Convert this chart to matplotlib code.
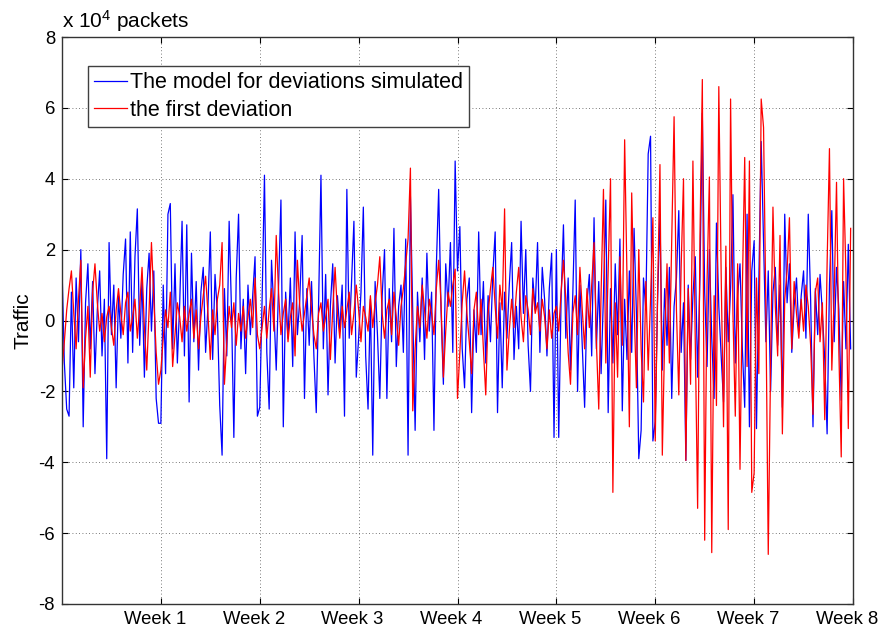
import numpy as np
import matplotlib
matplotlib.use('Agg')
import matplotlib.pyplot as plt
import matplotlib.transforms as mtransforms

plt.rcParams['font.family'] = ['Liberation Sans', 'DejaVu Sans']
plt.rcParams['mathtext.default'] = 'regular'
plt.rcParams['axes.unicode_minus'] = False

# Desviaciones de trafico (x 10^4 paquetes), 42 muestras por semana (cada 4 horas)
blue_weeks = [
    [1.5, -1.2, -2.5, -2.7, 0.8, -1.9, 1.2, -0.6, 2.0, -3.0, 0.5, 1.6, -0.8, 1.1, -1.5, 0.3, 1.4, -1.0, 0.6, -3.9, 2.2,
     -0.4, 1.0, -1.9, 0.7, -0.5, 1.3, 2.3, -1.2, 2.5, -0.9, 1.8, 3.15, -0.7, 1.2, -1.6, 0.9, 1.9, -0.3, 1.4, -2.2, -2.9],
    [-2.9, 1.0, -1.5, 3.0, 3.3, -0.8, 1.6, -1.2, 0.5, 2.8, -1.0, 2.7, -2.3, 1.9, -0.6, 1.1, -1.4, 0.8, 1.5, -0.9, 0.4,
     2.5, -1.1, 1.3, 0.2, -2.4, -3.8, 0.9, -1.0, 2.8, 0.3, -3.3, 1.2, 3.0, -0.8, 0.6, -1.5, 1.0, -0.4, 0.7, 1.8, -2.7],
    [-2.45, 0.6, 4.1, -0.9, -2.5, 1.7, 0.3, -1.4, 1.0, 3.4, -3.0, 0.8, -0.5, 1.2, -1.3, 2.5, -0.4, 0.6, 2.4, -2.2, 0.9,
     -0.7, 1.1, -1.0, -2.6, 0.5, 4.1, -0.8, 1.3, -2.1, 0.4, 1.6, -1.2, 0.7, -0.3, 1.0, -2.7, 3.7, -0.5, 1.1, 2.8, -1.6],
    [-0.5, 0.8, 3.2, -1.0, -2.5, 0.6, -3.8, 1.1, -0.4, -2.2, 0.7, 2.0, -2.2, 0.9, -0.6, 2.6, -1.3, 0.4, 1.0, -0.9, 2.3,
     -3.8, 3.5, 0.2, -3.1, 0.8, -0.6, 1.2, -1.1, 1.9, -0.3, 0.8, -3.1, 1.5, 3.7, 0.3, -1.8, 1.6, 0.4, 2.2, -0.9, 4.5],
    [1.4, 2.65, -0.8, -1.9, 0.6, 1.2, -2.6, 0.3, -0.9, 2.5, -0.4, 1.1, -1.2, 0.7, -0.6, 1.3, 2.5, -2.6, 0.5, -1.9, 0.8,
     -0.5, 1.0, 2.2, -1.1, 0.4, -0.8, 2.8, 0.2, 2.0, -0.7, -2.0, 1.2, 0.3, 2.2, -0.9, 1.5, 0.6, -1.0, 0.9, 1.9, -3.3],
    [2.0, -3.3, 0.6, 2.7, -0.5, 1.2, -1.4, 0.8, 3.4, -2.0, 1.0, -0.7, -2.45, 0.5, 1.3, -1.0, 2.9, -0.8, 1.1, -1.5, 0.7,
     3.4, -2.6, 0.9, -1.2, 1.6, -0.4, 2.3, -2.55, 0.6, -1.1, 1.4, -0.9, 2.6, 0.2, -3.9, -3.1, 1.2, 0.3, 4.7, 5.2, -3.4],
    [-2.85, 0.6, 3.0, -1.4, 0.9, -0.7, 1.5, -2.2, 0.4, 1.2, 3.1, -0.9, 0.5, -3.95, 1.0, -1.1, 0.7, 1.8, -1.6, 1.25, 5.85,
     0.8, -1.3, 2.0, -0.5, -2.2, 2.75, 0.4, -1.0, -2.3, 1.5, -0.6, 0.9, 3.55, -1.2, 0.7, 1.6, -0.8, -2.45, 3.0, -3.0, 1.4],
    [2.25, -3.05, 1.1, 5.05, 2.2, -0.6, 1.4, -2.0, 0.8, 1.5, -0.7, 1.0, -2.45, 3.0, 0.5, 1.6, -0.9, 0.4, 1.2, -0.3, 0.7,
     1.4, -0.5, 3.0, 0.6, -3.0, 0.9, -0.4, 1.3, 0.2, -1.1, -3.2, 1.0, 3.1, -0.6, 1.5, 0.3, -2.25, 1.1, -0.8, 2.15, -0.8],
]

red_weeks = [
    [-1.4, -0.6, 0.3, 0.9, 1.4, 0.2, -0.8, 0.6, 1.7, -1.9, -0.5, 0.4, -1.6, 0.8, 1.6, 0.5, -0.3, 0.2, -0.6, 0.1, 0.4,
     -0.2, -0.7, 0.3, 0.9, 0.2, -0.4, 0.5, 0.8, -0.3, 0.1, 0.6, -0.5, 0.4, 1.5, -0.2, -1.4, 0.3, 2.2, 0.6, -0.9, -1.8],
    [-1.4, -0.5, 0.3, -0.2, 0.8, -1.3, -0.4, 0.5, 0.1, -0.6, 0.4, -0.3, 0.2, 0.6, -0.5, 0.3, -0.8, 0.1, 0.7, 1.25, 0.2,
     -1.1, 0.3, -0.4, 0.6, 1.0, 2.2, -1.8, -0.6, 0.4, -0.2, 0.5, -0.7, 0.2, -0.3, 0.4, -0.5, 0.1, 0.6, -0.2, 1.2, -0.4],
    [-0.8, -0.2, 0.4, -0.5, 0.3, 0.9, -0.3, 2.4, 0.8, -0.4, 0.2, 0.6, -0.6, 0.1, 0.5, -1.0, 1.7, 0.4, -0.3, 0.2, 0.7,
     1.2, 0.3, -0.4, -0.8, 0.2, 0.5, -0.3, 0.1, 0.6, -1.1, 0.3, 1.5, 0.2, -0.5, 0.4, -0.2, 0.3, 0.8, -0.4, 0.2, 1.0],
    [0.3, -0.6, 0.4, 0.1, -0.3, 0.7, -0.2, 0.5, 1.0, 1.8, 0.2, -0.5, 0.3, 0.6, -0.4, 0.8, 0.1, -0.7, 0.4, 0.9, 1.6,
     2.3, 4.3, -2.55, -0.8, 0.4, -0.2, 1.0, 0.3, -0.5, 0.6, 0.2, -0.4, 0.9, 1.7, 0.5, -1.6, -0.3, 0.8, 0.4, 1.0, 1.45],
    [-2.2, -0.9, 0.5, 1.4, 0.2, -0.6, -1.5, 0.3, 0.8, -0.4, 0.6, -0.8, -2.1, 0.2, 0.9, 1.5, 0.4, -0.5, 1.0, 0.3, 3.15,
     -1.4, -0.3, 0.6, -0.2, 0.8, 1.5, 0.1, -0.6, 0.7, 0.3, -0.4, 0.9, 0.2, 0.5, -0.3, 0.6, 0.1, -0.8, 0.3, -0.5, 0.2],
    [0.4, -0.3, 0.8, 1.7, 0.6, -0.9, -1.8, 0.2, 0.7, -0.4, 1.5, 0.3, -0.8, 0.9, -0.2, 1.0, 2.2, -0.6, -2.5, 0.8, 3.7,
     -1.2, 1.4, 4.0, -4.85, 0.5, -1.6, 1.8, -0.7, 5.1, 1.2, -3.0, 3.6, 0.4, -1.9, 2.0, -0.8, -2.3, 1.1, -1.4, 0.6, 2.9],
    [-3.4, 0.8, 4.4, -3.8, -0.5, 1.6, -1.2, 2.2, 5.75, 0.3, -2.1, 1.5, 4.0, -3.95, 0.9, -1.8, 4.5, -0.6, -5.3, 2.4, 6.8,
     -6.2, 1.1, 4.05, -6.55, 0.7, -2.4, 6.6, 1.3, -3.0, 2.1, -5.9, 6.25, 0.2, -2.7, 1.6, -4.2, 0.9, 4.6, -1.3, 4.5, -4.85],
    [-4.3, 1.2, -1.5, 6.25, 5.45, 0.3, -6.6, -1.2, 3.2, 0.4, -1.0, 2.4, -3.2, 0.6, 1.4, 2.9, -0.8, 1.1, 0.2, -0.5, 0.6,
     -0.3, 1.0, 0.4, -0.7, -2.65, 0.8, 1.2, -0.6, 0.5, -2.8, 1.6, 4.85, -1.4, 0.7, 3.9, -0.9, -3.85, 4.0, 1.3, -3.05, 2.6],
]

week_labels = ['Week 1', 'Week 2', 'Week 3', 'Week 4', 'Week 5', 'Week 6', 'Week 7', 'Week 8']
hours_per_week = 168


def to_series(weeks):
    # eje x en horas: cada semana ocupa 168 h
    xs, ys = [], []
    for k, vals in enumerate(weeks):
        n = len(vals)
        xs.append(k * hours_per_week + np.arange(n) * hours_per_week / n)
        ys.append(vals)
    return np.concatenate(xs), np.concatenate(ys)


xb, yb = to_series(blue_weeks)
xr, yr = to_series(red_weeks)

fig = plt.figure(figsize=(8.94, 6.32), dpi=100)
ax = fig.add_axes([62 / 894, 1 - 604 / 632, (853 - 62) / 894, (604 - 37) / 632])

ax.plot(xb, yb, color='#0000ff', lw=0.9, label='The model for deviations simulated')
ax.plot(xr, yr, color='#ff0000', lw=0.9, label='the first deviation')

ax.set_xlim(0, len(week_labels) * hours_per_week)
ax.set_ylim(-8, 8)
ax.set_xticks([(k + 1) * hours_per_week for k in range(len(week_labels))])
ax.set_xticklabels(week_labels)
ax.set_yticks(range(-8, 9, 2))

ax.grid(True, color='0.3', linestyle=(0, (1, 3)), linewidth=0.6)
ax.tick_params(direction='in', length=4, top=True, right=True, labelsize=13.3, colors='black', pad=5)
for sp in ax.spines.values():
    sp.set_color('0.2')
    sp.set_linewidth(1.0)

# etiquetas de semana un poco corridas a la izquierda
shift = mtransforms.ScaledTranslation(-6 / 100, 0, fig.dpi_scale_trans)
for lbl in ax.get_xticklabels():
    lbl.set_transform(lbl.get_transform() + shift)

ax.set_ylabel('Traffic', fontsize=15, labelpad=4)
ax.text(0, 1.005, r'x 10$^4$ packets', transform=ax.transAxes, fontsize=15, va='bottom', ha='left')

leg = ax.legend(loc='upper left', bbox_to_anchor=(0.0329, 0.949), borderaxespad=0, fontsize=15.5,
                handlelength=1.5, handletextpad=0.15, labelspacing=0.3, borderpad=0.3,
                fancybox=False, framealpha=1, edgecolor='0.25')
leg.get_frame().set_linewidth(1.0)

fig.savefig('out.png', dpi=100)
